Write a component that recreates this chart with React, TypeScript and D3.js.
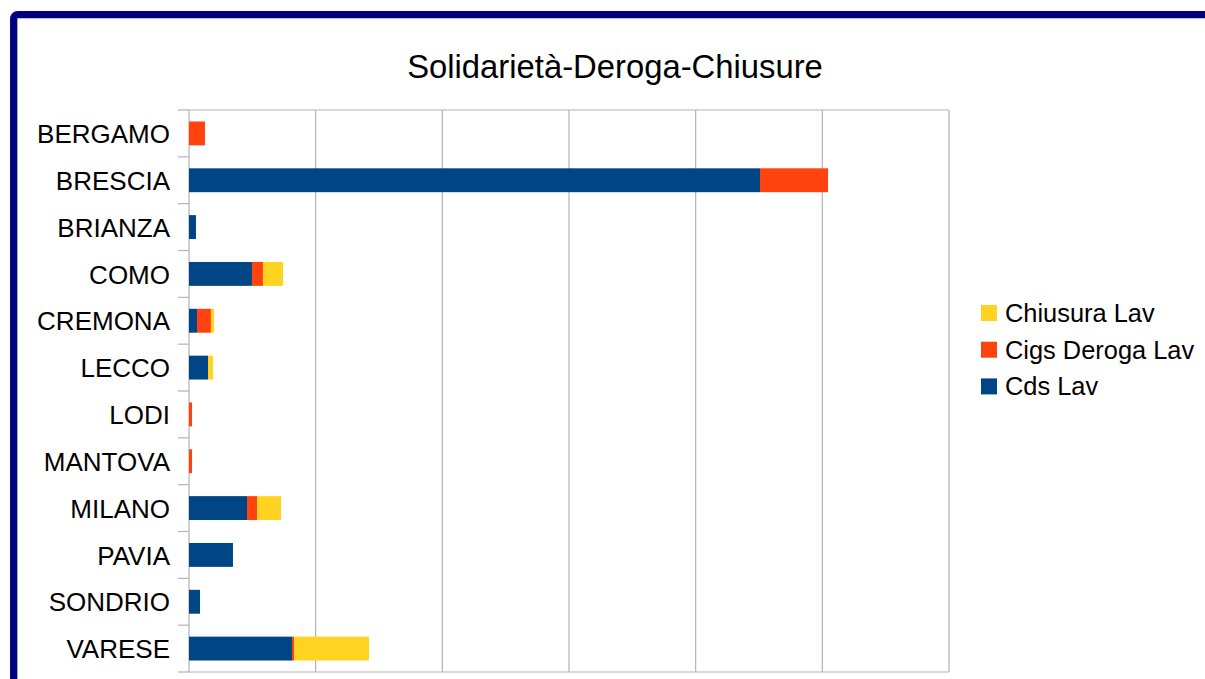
import React from "react";
import * as d3 from "d3";

const categories = ["BERGAMO", "BRESCIA", "BRIANZA", "COMO", "CREMONA", "LECCO", "LODI", "MANTOVA", "MILANO", "PAVIA", "SONDRIO", "VARESE"];
const cdsLav = [0, 4508, 55, 497, 63, 150, 0, 0, 458, 347, 87, 813];
const cigsDerogaLav = [126, 537, 0, 87, 110, 0, 24, 24, 79, 0, 0, 16];
const chiusuraLav = [0, 0, 0, 158, 24, 39, 0, 0, 189, 0, 0, 592];
const seriesNames = ["Cds Lav", "Cigs Deroga Lav", "Chiusura Lav"];
const seriesColors = ["#004586", "#ff420e", "#ffd320"];
const xTicks = [0, 1000, 2000, 3000, 4000, 5000, 6000];
const title = "Solidarietà-Deroga-Chiusure";

const W = 1205, H = 679;
const plot = { left: 189, top: 110, right: 949, bottom: 672 };
const FONT = "'Liberation Sans', Arial, sans-serif";

export default function App() {
  const rows = categories.map((c, i) => ({ cat: c, s0: cdsLav[i], s1: cigsDerogaLav[i], s2: chiusuraLav[i] }));
  const stack = d3.stack<any>().keys(["s0", "s1", "s2"]);
  const layers = stack(rows);
  const x = d3.scaleLinear().domain([0, 6000]).range([plot.left, plot.right]);
  const y = d3.scaleBand<string>().domain(categories).range([plot.top, plot.bottom]).padding(0);
  const bw = y.bandwidth();
  const barH = bw * 0.51;
  const legendOrder = [2, 1, 0];
  return (
    <div style={{ position: "absolute", left: 0, top: 0 }}>
      <svg width={W} height={H} style={{ display: "block" }} fontFamily={FONT}>
        <rect x={0} y={0} width={W} height={H} fill="#fff" />
        <rect x={13.7} y={14.7} width={W + 50} height={H + 50} rx={4} fill="none" stroke="#000080" strokeWidth={7.3} />
        <text x={615} y={77.5} textAnchor="middle" fontSize={32.8} fill="#000">{title}</text>
        {/* grid */}
        {xTicks.map((t) => (
          <line key={t} x1={x(t)} x2={x(t)} y1={plot.top} y2={plot.bottom} stroke="#b3b3b3" strokeWidth={1.2} />
        ))}
        <line x1={plot.left} x2={plot.right} y1={plot.top} y2={plot.top} stroke="#b3b3b3" strokeWidth={1.2} />
        <line x1={plot.left} x2={plot.right} y1={plot.bottom} y2={plot.bottom} stroke="#b3b3b3" strokeWidth={1.2} />
        {/* category ticks */}
        {d3.range(categories.length + 1).map((k) => {
          const yy = plot.top + k * bw;
          return <line key={k} x1={178} x2={plot.left} y1={yy} y2={yy} stroke="#b3b3b3" strokeWidth={1.2} />;
        })}
        {/* bars */}
        {layers.map((layer, li) => (
          <g key={li} fill={seriesColors[li]}>
            {layer.map((d, i) => {
              const w = x(d[1]) - x(d[0]);
              if (w <= 0) return null;
              return <rect key={i} x={x(d[0])} y={(y(categories[i]) as number) + (bw - barH) / 2} width={w} height={barH} />;
            })}
          </g>
        ))}
        {/* category labels */}
        {categories.map((c) => (
          <text key={c} x={170} y={(y(c) as number) + bw / 2 + 9.7} textAnchor="end" fontSize={26} fill="#000">{c}</text>
        ))}
        {/* legend */}
        {legendOrder.map((si, k) => (
          <g key={si}>
            <rect x={981} y={305 + k * 36.7} width={16} height={16} fill={seriesColors[si]} />
            <text x={1005} y={322 + k * 36.7} fontSize={25.4} fill="#000">{seriesNames[si]}</text>
          </g>
        ))}
      </svg>
    </div>
  );
}
